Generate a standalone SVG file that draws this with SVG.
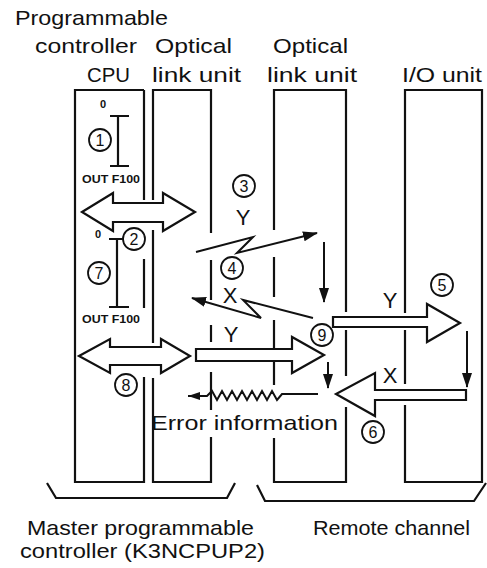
<svg xmlns="http://www.w3.org/2000/svg" width="487" height="568" viewBox="0 0 487 568">
<defs>
<style>
.ln{fill:none;stroke:#111;stroke-width:2.2;stroke-linecap:butt}
.hol{fill:#fff;stroke:#111;stroke-width:2.2;stroke-linejoin:miter}
.thin{fill:none;stroke:#111;stroke-width:2}
.t{font-family:"Liberation Sans",Arial,sans-serif;font-size:21px;fill:#111}
.xy{font-family:"Liberation Sans",Arial,sans-serif;font-size:22px;fill:#111;text-anchor:middle}
.sm{font-family:"Liberation Sans",Arial,sans-serif;font-size:11px;fill:#111;font-weight:bold}
.cn circle{fill:none;stroke:#111;stroke-width:1.8}
.cn text{font-family:"Liberation Sans",Arial,sans-serif;font-size:16px;fill:#111;text-anchor:middle}
</style>
<marker id="ah" markerUnits="userSpaceOnUse" markerWidth="15" markerHeight="10" refX="14" refY="5" orient="auto">
<path d="M0,0 L15,5 L0,10 Z" fill="#111"/>
</marker>
<marker id="ahs" markerUnits="userSpaceOnUse" markerWidth="12" markerHeight="8" refX="12" refY="4" orient="auto">
<path d="M0,0 L12,4 L0,8 Z" fill="#111"/>
</marker>
</defs>
<rect width="487" height="568" fill="#fff"/>

<g id="header-labels">
<text class="t" x="15" y="25" textLength="153" lengthAdjust="spacingAndGlyphs">Programmable</text>
<text class="t" x="35" y="53" textLength="102" lengthAdjust="spacingAndGlyphs">controller</text>
<text class="t" x="87" y="82" textLength="43" lengthAdjust="spacingAndGlyphs">CPU</text>
<text class="t" x="155" y="53" textLength="77" lengthAdjust="spacingAndGlyphs">Optical</text>
<text class="t" x="152" y="82" textLength="89" lengthAdjust="spacingAndGlyphs">link unit</text>
<text class="t" x="273" y="53" textLength="75" lengthAdjust="spacingAndGlyphs">Optical</text>
<text class="t" x="267" y="82" textLength="90" lengthAdjust="spacingAndGlyphs">link unit</text>
<text class="t" x="402" y="82" textLength="80" lengthAdjust="spacingAndGlyphs">I/O unit</text>
</g>

<g id="cpu">
<path class="ln" d="M75,90 H144 M75,89 V483 M75,482 H144 M144,90 V200 M144,259 V308 M144,377 V483"/>
<path class="ln" d="M118,116 V166 M110,116 H129 M110,166 H129"/>
<path class="ln" d="M117,239 V307 M109,239 H124 M109,307 H129"/>
<text class="sm" x="103" y="108" font-size="9" text-anchor="middle">0</text>
<text class="sm" x="82" y="183" textLength="58" lengthAdjust="spacingAndGlyphs">OUT F100</text>
<text class="sm" x="98" y="238" font-size="9" text-anchor="middle">0</text>
<text class="sm" x="82" y="323" textLength="58" lengthAdjust="spacingAndGlyphs">OUT F100</text>
</g>

<g id="master-link-unit">
<path class="ln" d="M153,90 H211 M153,89 V200 M153,230 V343 M153,378 V483 M153,482 H211 M211,89 V233 M211,260 V300 M211,325 V342 M211,372 V410 M211,437 V483"/>
</g>

<g id="remote-link-unit">
<path class="ln" d="M274,90 H346 M274,89 V230 M274,257 V297 M274,320 V385 M274,438 V483 M274,482 H346 M346,89 V312 M346,330 V376 M346,407 V483"/>
</g>

<g id="io-unit">
<path class="ln" d="M405,90 H482 M405,89 V313 M405,330 V384 M405,405 V483 M405,482 H482 M482,89 V483"/>
</g>

<g id="connectors">
<path class="hol" d="M82,212 L113,193 L113,203 L163,203 L163,193 L195,212 L163,231 L163,222 L113,222 L113,231 Z"/>
<path class="hol" d="M79,356 L110,339 L110,347 L161,347 L161,339 L190,356 L161,373 L161,365 L110,365 L110,373 Z"/>
<path class="hol" d="M196,349 L292,349 L292,337 L324,355 L292,373 L292,361 L196,361 Z"/>
<path class="hol" d="M333,317 L427,317 L427,304 L460,323 L427,342 L427,327 L333,327 Z"/>
<path class="hol" d="M466,390 L375,390 L375,373 L336,394 L375,416 L375,400 L466,400 Z"/>
<polyline class="thin" points="196,252 253,237 237,253 317,233" marker-end="url(#ah)"/>
<polyline class="thin" points="313,318 243,300 261,318 192,298" marker-end="url(#ah)"/>
<line class="thin" x1="324" y1="242" x2="324" y2="302" marker-end="url(#ah)"/>
<line class="thin" x1="328" y1="362" x2="328" y2="388" marker-end="url(#ah)"/>
<line class="thin" x1="467" y1="331" x2="467" y2="387" marker-end="url(#ah)"/>
<polyline class="thin" points="318,394 282,394 277,400 272,391 267,400 262,391 257,400 252,391 247,400 242,391 237,400 232,391 227,400 222,391 217,400 212,391 207,396 188,396" marker-end="url(#ahs)"/>
</g>

<g id="flow-labels">
<text class="xy" x="243" y="225">Y</text>
<text class="xy" x="230" y="303">X</text>
<text class="xy" x="231" y="342">Y</text>
<text class="xy" x="390" y="308">Y</text>
<text class="xy" x="390" y="383">X</text>
<text class="t" x="151" y="430" textLength="187" lengthAdjust="spacingAndGlyphs">Error information</text>
</g>

<g id="step-numbers" class="cn">
<circle cx="100" cy="140" r="11"/><text x="100" y="146">1</text>
<circle cx="134" cy="239" r="11"/><text x="134" y="245">2</text>
<circle cx="244" cy="186" r="11"/><text x="244" y="192">3</text>
<circle cx="232" cy="268" r="11"/><text x="232" y="274">4</text>
<circle cx="442" cy="285" r="11"/><text x="442" y="291">5</text>
<circle cx="373" cy="432" r="11"/><text x="373" y="438">6</text>
<circle cx="99" cy="273" r="11"/><text x="99" y="279">7</text>
<circle cx="126" cy="385" r="11"/><text x="126" y="391">8</text>
<circle cx="322" cy="335" r="11"/><text x="322" y="341">9</text>
</g>

<g id="groupings">
<path class="ln" d="M47,483 L56,498 H227 L235,483"/>
<path class="ln" d="M257,485 L265,501 H474 L486,483"/>
<text class="t" x="27" y="535" textLength="227" lengthAdjust="spacingAndGlyphs">Master programmable</text>
<text class="t" x="20" y="558" textLength="245" lengthAdjust="spacingAndGlyphs">controller (K3NCPUP2)</text>
<text class="t" x="313" y="535" textLength="157" lengthAdjust="spacingAndGlyphs">Remote channel</text>
</g>
</svg>
